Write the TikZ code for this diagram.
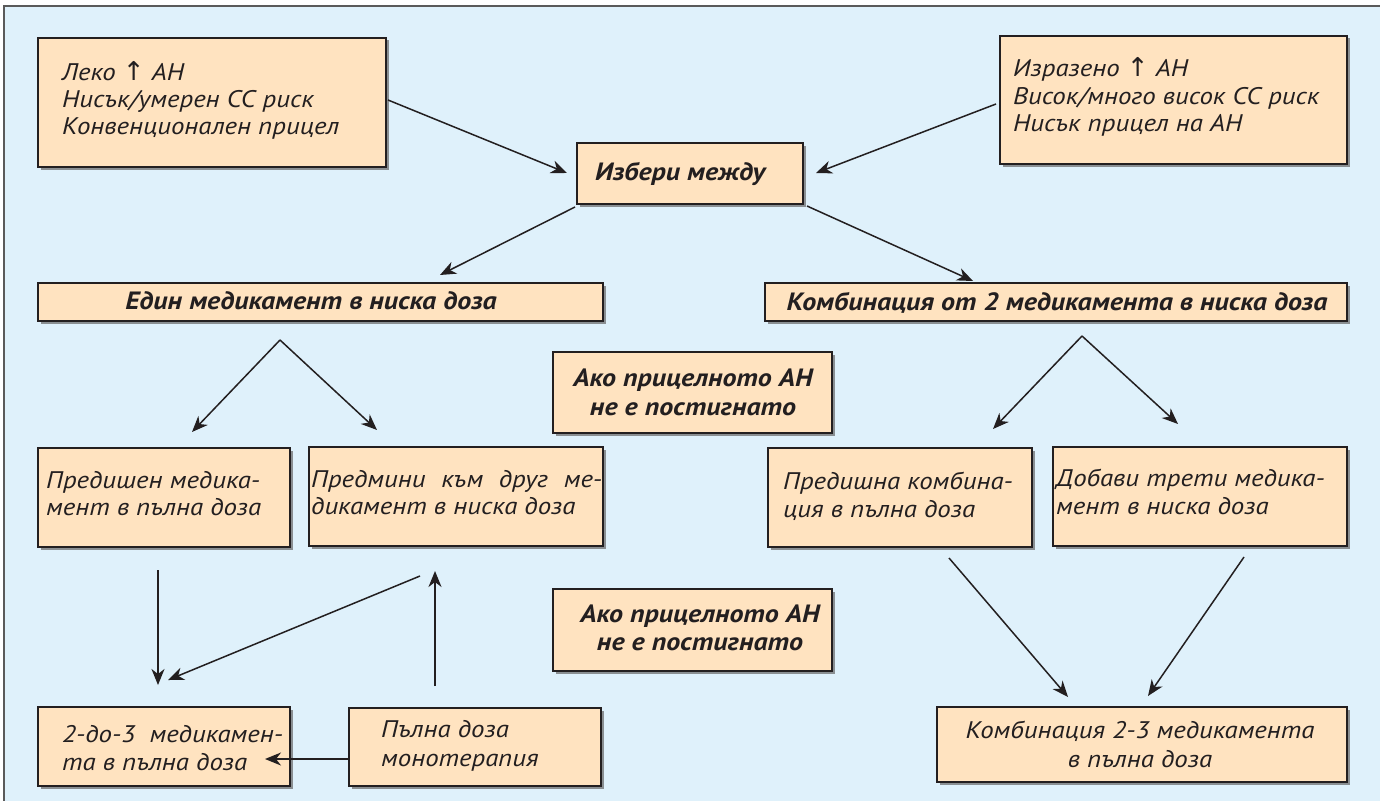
\documentclass[tikz,border=0pt]{standalone}
\usepackage{fontspec}
\setmainfont{PT Sans}[FakeStretch=1.12]
\newfontfamily\arrfont{DejaVu Sans}
\usetikzlibrary{arrows.meta,shadows}
\definecolor{bgblue}{HTML}{DFF1FB}
\definecolor{peach}{HTML}{FFE3C0}
\definecolor{ink}{HTML}{231F20}
\definecolor{framegray}{HTML}{5A5A5A}
\tikzset{
  box/.style={draw=ink, line width=1.2pt, fill=peach, rectangle, inner sep=0pt,
    drop shadow={shadow xshift=2.5pt, shadow yshift=-2.5pt, fill=black!60, opacity=0.7}},
  txt/.style={anchor=base west, inner sep=0pt, text=ink, font=\fontsize{24}{28}\selectfont\itshape},
  ctxt/.style={anchor=base, inner sep=0pt, text=ink, font=\fontsize{24}{28}\selectfont\itshape},
  btxt/.style={anchor=base, inner sep=0pt, text=ink, font=\fontsize{25}{28}\selectfont\bfseries\itshape},
  arr/.style={draw=ink, line width=1.5pt, -{Stealth[length=16pt,width=13pt,inset=5pt]}},
}
\newcommand{\uparr}{{\arrfont\upshape\fontsize{26}{28}\selectfont ↑}}
\begin{document}
\begin{tikzpicture}[x=1pt,y=-1pt]
\useasboundingbox (0,0) rectangle (1380,800);
\fill[white] (0,0) rectangle (1380,800);
\path[fill=bgblue, draw=framegray, line width=1.5pt] (4,6) rectangle (1384,804);

% boxes
\node[box, minimum width=348pt, minimum height=129pt] (tl) at (212,102.5) {};
\node[box, minimum width=347pt, minimum height=128pt] (tr) at (1173.5,100) {};
\node[box, minimum width=226pt, minimum height=61pt] (izberi) at (690,173.5) {};
\node[box, minimum width=565pt, minimum height=38pt] (edin) at (320.5,302) {};
\node[box, minimum width=582pt, minimum height=38pt] (komb) at (1056,302) {};
\node[box, minimum width=279pt, minimum height=81pt] (ako1) at (692.5,392.5) {};
\node[box, minimum width=279pt, minimum height=82pt] (ako2) at (692.5,630) {};
\node[box, minimum width=252pt, minimum height=99pt] (predishen) at (164,497.5) {};
\node[box, minimum width=294pt, minimum height=99pt] (predmini) at (456,496.5) {};
\node[box, minimum width=264pt, minimum height=99pt] (predkomb) at (900,497.5) {};
\node[box, minimum width=294pt, minimum height=99pt] (dobavi) at (1200,496.5) {};
\node[box, minimum width=252pt, minimum height=79pt] (dvedo) at (164,746.5) {};
\node[box, minimum width=252pt, minimum height=78pt] (palna) at (475,747) {};
\node[box, minimum width=410pt, minimum height=75pt] (komb23) at (1142,744.5) {};

% texts
\node[txt] (tl1) at (62,80) {Леко \uparr{} АН};
\node[txt] (tl2) at (62,107) {Нисък/умерен СС риск};
\node[txt] (tl3) at (62,134) {Конвенционален прицел};
\node[txt] (tr1) at (1013,77) {Изразено \uparr{} АН};
\node[txt] (tr2) at (1013,104) {Висок/много висок СС риск};
\node[txt] (tr3) at (1013,131) {Нисък прицел на АН};
\node[btxt, anchor=base west] (izt) at (595,180) {Избери между};
\node[btxt] (edt) at (311,309) {Един медикамент в ниска доза};
\node[btxt] (kot) at (1057,310) {Комбинация от 2 медикамента в ниска доза};
\node[btxt] (ak1a) at (693,386) {Ако прицелното АН};
\node[btxt] (ak1b) at (693,415) {не е постигнато};
\node[btxt] (ak2a) at (700,622) {Ако прицелното АН};
\node[btxt] (ak2b) at (700,650) {не е постигнато};
\node[txt] (pr1) at (46,488) {Предишен медика-};
\node[txt] (pr2) at (46,515) {мент в пълна доза};
\node[txt] (pm1) at (311,487) {\makebox[291pt][s]{Предмини към друг ме-}};
\node[txt] (pm2) at (311,514) {дикамент в ниска доза};
\node[txt] (pk1) at (783,489) {Предишна комбина-};
\node[txt] (pk2) at (783,517) {ция в пълна доза};
\node[txt] (db1) at (1056,486) {Добави трети медика-};
\node[txt] (db2) at (1056,514) {мент в ниска доза};
\node[txt] (dv1) at (62,742) {2-до-3\ \ медикамен-};
\node[txt] (dv2) at (62,770) {та в пълна доза};
\node[txt] (pa1) at (381,737) {Пълна доза};
\node[txt] (pa2) at (381,766) {монотерапия};
\node[ctxt] (k231) at (1140,738) {Комбинация 2-3 медикамента};
\node[ctxt] (k232) at (1140,767) {в пълна доза};

% connector end points
\coordinate (a1s) at (388,100);  \coordinate (a1e) at (567,173);
\coordinate (a2s) at (996,104);  \coordinate (a2e) at (816,173);
\coordinate (a3s) at (575,207);  \coordinate (a3e) at (440,275);
\coordinate (a4s) at (807,206);  \coordinate (a4e) at (973,281);
\coordinate (apexL) at (280,340);
\coordinate (a5e) at (192,432);  \coordinate (a6e) at (377,430);
\coordinate (apexR) at (1082,336);
\coordinate (a7e) at (993,429);  \coordinate (a8e) at (1178,424);
\coordinate (a9s) at (158,570);  \coordinate (a9e) at (158,685);
\coordinate (a10s) at (420,576); \coordinate (a10e) at (168,680);
\coordinate (a11s) at (435,686); \coordinate (a11e) at (435,571);
\coordinate (a12s) at (349,759); \coordinate (a12e) at (265,759);
\coordinate (a13s) at (949,558); \coordinate (a13e) at (1068,697);
\coordinate (a14s) at (1244,557); \coordinate (a14e) at (1148,696);

\draw[arr] (a1s) -- (a1e);
\draw[arr] (a2s) -- (a2e);
\draw[arr] (a3s) -- (a3e);
\draw[arr] (a4s) -- (a4e);
\draw[arr] (apexL) -- (a5e);
\draw[arr] (apexL) -- (a6e);
\draw[arr] (apexR) -- (a7e);
\draw[arr] (apexR) -- (a8e);
\draw[arr] (a9s) -- (a9e);
\draw[arr] (a10s) -- (a10e);
\draw[arr] (a11s) -- (a11e);
\draw[arr] (a12s) -- (a12e);
\draw[arr] (a13s) -- (a13e);
\draw[arr] (a14s) -- (a14e);
\end{tikzpicture}
\end{document}
